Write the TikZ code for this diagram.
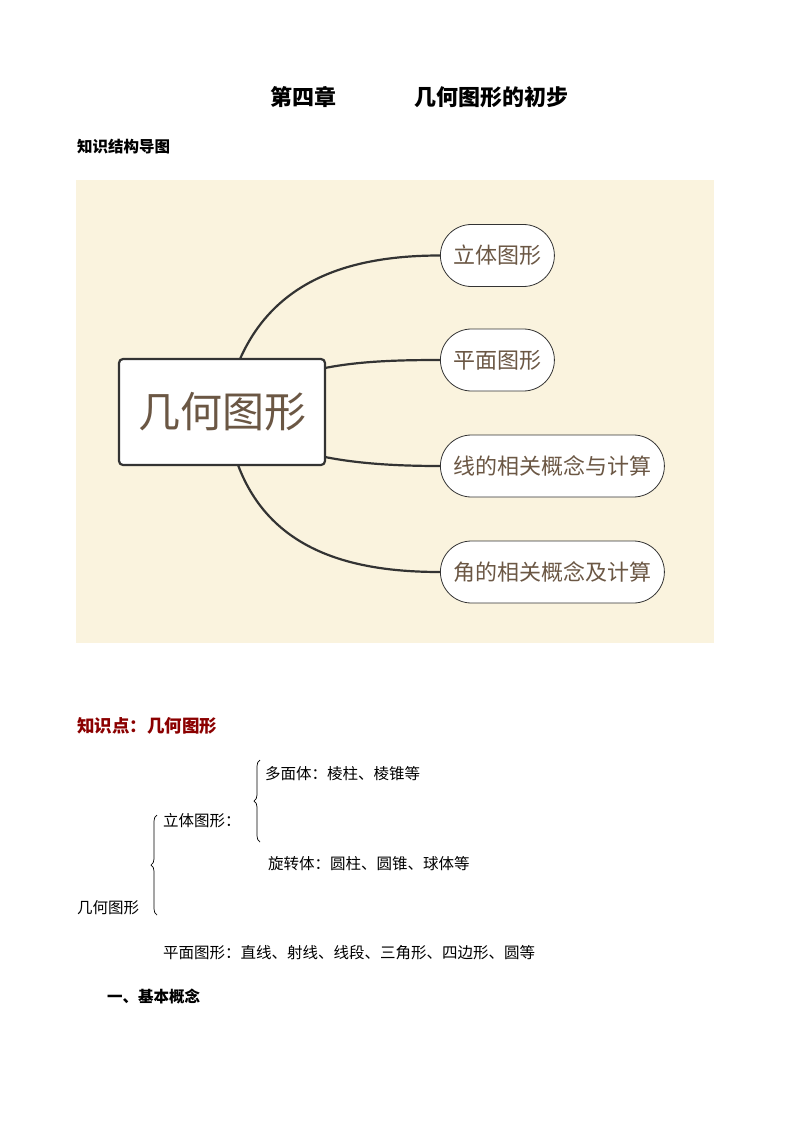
\documentclass[tikz,border=0pt]{standalone}
\usepackage{fontspec}
\setmainfont{Noto Sans CJK SC}
\newfontfamily\cjk{Noto Sans CJK SC}
\usetikzlibrary{decorations.pathreplacing}
\definecolor{bgc}{HTML}{FAF3DE}
\definecolor{brn}{HTML}{6B5744}
\definecolor{lnc}{HTML}{333333}
\definecolor{redc}{HTML}{8B0000}
\tikzset{
 pill/.style={draw=lnc,line width=0.8pt,rounded corners=31pt,fill=white,minimum height=62pt,text=brn,font=\cjk\fontsize{22}{24}\selectfont,inner xsep=13pt},
 conn/.style={draw=lnc,line width=2.2pt},
 txt/.style={anchor=west,font=\cjk\fontsize{15.5}{17}\selectfont,inner sep=0pt},
 btxt/.style={anchor=west,font=\cjk\bfseries\fontsize{15.5}{17}\selectfont,inner sep=0pt}
}
\begin{document}
\begin{tikzpicture}[x=1pt,y=-1pt]
\useasboundingbox (0,0) rectangle (794,1123);
\node[btxt,font=\cjk\bfseries\fontsize{22}{24}\selectfont] (t1) at (270,97) {第四章};
\node[btxt,font=\cjk\bfseries\fontsize{22}{24}\selectfont] (t2) at (414,97) {几何图形的初步};
\node[btxt] (h1) at (77,147) {知识结构导图};
\fill[bgc] (76,180) rectangle (714,643);
\node[draw=lnc,line width=2.2pt,rounded corners=4pt,fill=white,minimum width=206pt,minimum height=106pt,text=brn,font=\cjk\fontsize{42}{46}\selectfont] (c) at (222,412) {几何图形};
\node[pill,anchor=west] (b1) at (440,255.5) {立体图形};
\node[pill,anchor=west] (b2) at (440,360) {平面图形};
\node[pill,anchor=west] (b3) at (440,466) {线的相关概念与计算};
\node[pill,anchor=west] (b4) at (440,572) {角的相关概念及计算};
\draw[conn] (240,359) .. controls (275,280) and (350,255.5) .. (b1.west);
\draw[conn] (325,368) .. controls (360,361) and (400,360) .. (b2.west);
\draw[conn] (325,457) .. controls (360,464) and (400,466) .. (b3.west);
\draw[conn] (238,465) .. controls (270,550) and (350,572) .. (b4.west);
\node[btxt,text=redc,font=\cjk\bfseries\fontsize{17.5}{19}\selectfont] (k) at (77,726) {知识点：几何图形};
\node[txt] (p1) at (265,774) {多面体：棱柱、棱锥等};
\node[txt] (p2) at (163,821) {立体图形：};
\node[txt] (p3) at (268,864) {旋转体：圆柱、圆锥、球体等};
\node[txt] (p4) at (77,908) {几何图形};
\node[txt] (p5) at (163,953) {平面图形：直线、射线、线段、三角形、四边形、圆等};
\node[btxt] (p6) at (107,997) {一、基本概念};
\draw[decorate,decoration={brace,amplitude=6pt},line width=0.7pt] (260,842) -- (260,760);
\draw[decorate,decoration={brace,amplitude=6pt},line width=0.7pt] (157,915) -- (157,815);
\end{tikzpicture}
\end{document}
